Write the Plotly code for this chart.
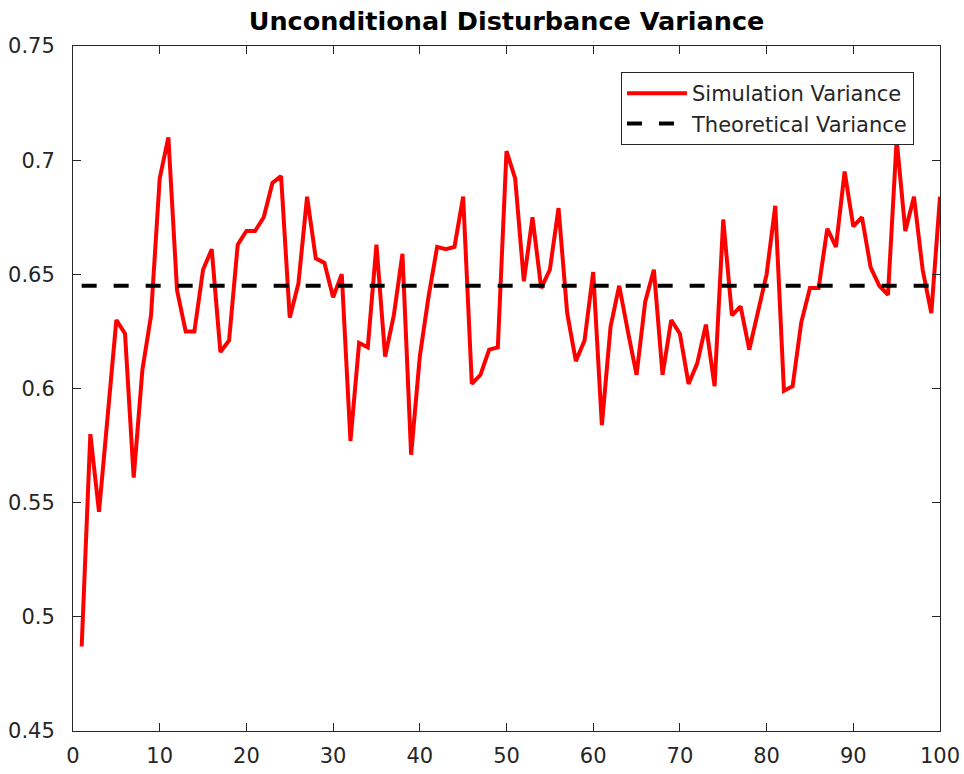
import plotly.graph_objects as go

# Simulated unconditional disturbance variance, one value per run length
steps = list(range(1, 101))
sim_variance = [
    0.487, 0.580, 0.546, 0.590, 0.630, 0.624, 0.561, 0.608, 0.632, 0.692,
    0.710, 0.643, 0.625, 0.625, 0.652, 0.661, 0.616, 0.621, 0.663, 0.669,
    0.669, 0.675, 0.690, 0.693, 0.631, 0.646, 0.684, 0.657, 0.655, 0.640,
    0.650, 0.577, 0.620, 0.618, 0.663, 0.614, 0.632, 0.659, 0.571, 0.614,
    0.640, 0.662, 0.661, 0.662, 0.684, 0.602, 0.606, 0.617, 0.618, 0.704,
    0.692, 0.647, 0.675, 0.644, 0.652, 0.679, 0.633, 0.612, 0.621, 0.651,
    0.584, 0.627, 0.645, 0.625, 0.606, 0.638, 0.652, 0.606, 0.630, 0.624,
    0.602, 0.611, 0.628, 0.601, 0.674, 0.632, 0.636, 0.617, 0.633, 0.650,
    0.680, 0.599, 0.601, 0.629, 0.644, 0.644, 0.670, 0.662, 0.695, 0.671,
    0.675, 0.653, 0.645, 0.641, 0.709, 0.669, 0.684, 0.652, 0.633, 0.684,
]
theoretical_variance = 0.645

x_ticks = [0, 10, 20, 30, 40, 50, 60, 70, 80, 90, 100]
y_ticks = [0.45, 0.5, 0.55, 0.6, 0.65, 0.7, 0.75]
y_tick_labels = ["0.45", "0.5", "0.55", "0.6", "0.65", "0.7", "0.75"]

AXIS_COLOR = "#262626"
FONT = "DejaVu Sans"

fig = go.Figure()
fig.add_trace(go.Scatter(
    x=steps, y=sim_variance, mode="lines", name="Simulation Variance",
    line=dict(color="#FF0000", width=4),
))
fig.add_trace(go.Scatter(
    x=[steps[0], steps[-1]], y=[theoretical_variance, theoretical_variance],
    mode="lines", name="Theoretical Variance",
    line=dict(color="#000000", width=4, dash="15px,17px"),
))

axis_common = dict(
    showline=True, linecolor=AXIS_COLOR, linewidth=1, mirror="ticks",
    ticks="inside", ticklen=8, tickwidth=1, tickcolor=AXIS_COLOR,
    showgrid=False, zeroline=False, automargin=False,
    tickfont=dict(family=FONT, size=21, color=AXIS_COLOR),
)

fig.update_layout(
    width=964, height=774,
    margin=dict(l=73, r=24, t=46, b=43),
    paper_bgcolor="white", plot_bgcolor="white",
    title=dict(
        text="<b>Unconditional Disturbance Variance</b>",
        font=dict(family=FONT, size=25.5, color="#000000"),
        x=0.5, xref="paper", xanchor="center",
        y=(774 - 21) / 774, yref="container", yanchor="middle",
    ),
    xaxis=dict(range=[0, 100], tickvals=x_ticks, ticklabelstandoff=6, **axis_common),
    yaxis=dict(range=[0.45, 0.75], tickvals=y_ticks, ticktext=y_tick_labels,
               ticklabelstandoff=13, **axis_common),
    legend=dict(
        x=0.97, y=0.962, xanchor="right", yanchor="top",
        bgcolor="white", bordercolor=AXIS_COLOR, borderwidth=1,
        font=dict(family=FONT, size=21, color=AXIS_COLOR),
        tracegroupgap=0, itemwidth=60,
    ),
    showlegend=True,
)

fig.write_html("out.html")
